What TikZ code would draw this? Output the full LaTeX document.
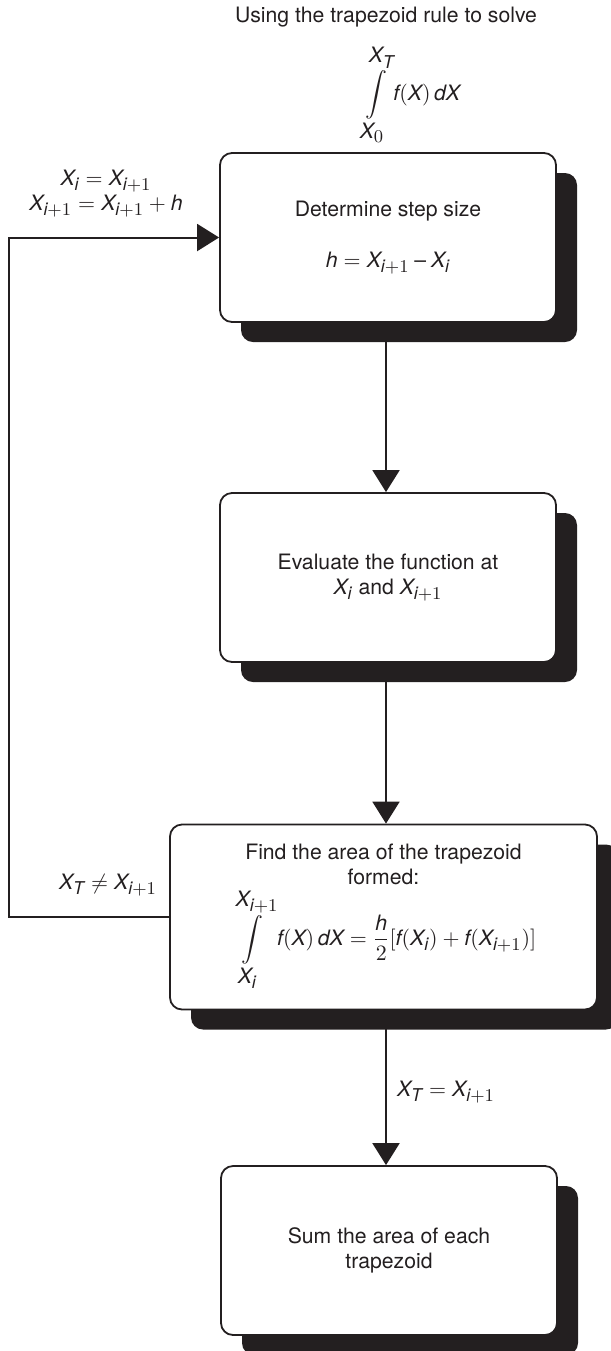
\documentclass[tikz,border=0pt]{standalone}
\usepackage{fontspec}
\setmainfont{TeX Gyre Heros}
\usepackage{amsmath}
\usepackage[italic]{mathastext}
\usetikzlibrary{arrows.meta,shadows}
\definecolor{ink}{HTML}{231F20}
\newcommand\biglim[1]{{\displaystyle #1}}

\begin{document}
\begin{tikzpicture}[x=0.5pt,y=-0.5pt,
  every node/.style={text=ink,font=\fontsize{10.6}{12.5}\selectfont},
  box/.style={draw=ink,line width=0.9pt,rounded corners=6pt,fill=white,align=center,
    minimum width=168pt,minimum height=84.5pt,inner sep=0pt,
    drop shadow={shadow xshift=10.5pt,shadow yshift=-10pt,fill=ink,opacity=1}},
  arr/.style={draw=ink,line width=1pt,-{Triangle[length=11pt,width=13.5pt]}}]
\useasboundingbox (0,0) rectangle (611,1351);
\clip (0,0) rectangle (611,1351);
\node (ttl) at (386,17) {Using the trapezoid rule to solve};
\node (intg) at (412,95) {$\displaystyle\int\limits_{\biglim{X_0}}^{\biglim{X_T}} f(X)\,dX$};
\node[box] (b1) at (388,237.5) {Determine step size\\[13pt] $h = X_{i+1} - X_i$};
\node[box] (b2) at (388,577.5) {Evaluate the function at\\ $X_i$ and $X_{i+1}$};
\node[box,minimum width=213.5pt,minimum height=92.5pt] (b3) at (383.5,917)
  {Find the area of the trapezoid\\ formed:\\[1pt]
   $\displaystyle\int\limits_{\biglim{X_i}}^{\biglim{X_{i+1}}} f(X)\,dX = \frac{h}{2}[f(X_i) + f(X_{i+1})]$};
\node[box] (b4) at (389,1250.5) {Sum the area of each\\ trapezoid};
\node[align=center] (upd) at (106,194) {$X_i = X_{i+1}$\\ $X_{i+1} = X_{i+1} + h$};
\node (ne) at (108,885) {$X_T \neq X_{i+1}$};
\node (eq) at (446,1092) {$X_T = X_{i+1}$};
\coordinate (rail) at (9,918);
\draw[arr] (b1.south -| 386,0) -- (b2.north -| 386,0);
\draw[arr] (b2.south -| 386,0) -- (b3.north -| 386,0);
\draw[arr] (b3.south -| 386,0) -- (b4.north -| 386,0);
\draw[arr] (b3.west) -- (b3.west -| rail) |- (b1.west);
\end{tikzpicture}
\end{document}
